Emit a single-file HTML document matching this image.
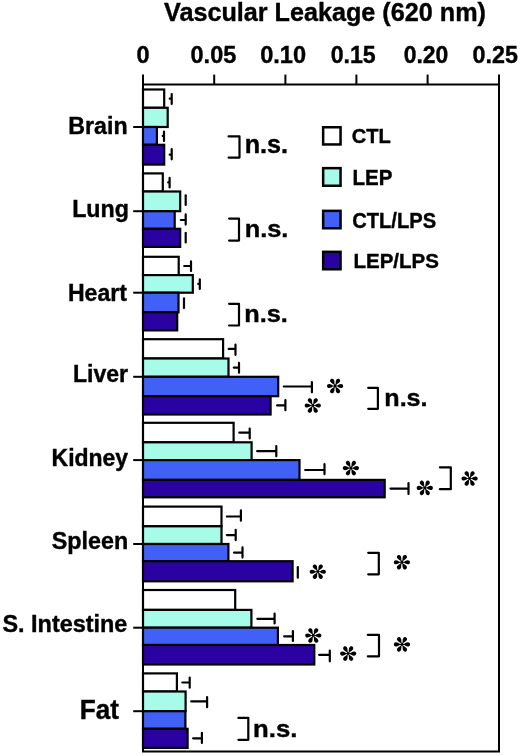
<!DOCTYPE html><html><head><meta charset="utf-8"><style>html,body{margin:0;padding:0;background:#fff;}svg{display:block;will-change:transform;filter:blur(0.3px);}text{font-family:"Liberation Sans",sans-serif;font-weight:bold;fill:#000;stroke:#000;stroke-width:0.4px;}</style></head><body>
<svg width="520" height="756" viewBox="0 0 520 756">
<text transform="matrix(0.9694 0 0 1.0222 164.0 21.0)" font-size="26">Vascular Leakage (620 nm)</text>
<text transform="matrix(0.9787 0 0 0.9739 136.57 63.23)" font-size="24">0</text>
<text transform="matrix(0.978 0 0 0.9855 190.57 63.33)" font-size="24">0.05</text>
<text transform="matrix(0.9839 0 0 0.9855 260.16 63.23)" font-size="24">0.10</text>
<text transform="matrix(0.9648 0 0 0.9739 330.68 62.83)" font-size="24">0.15</text>
<text transform="matrix(0.9551 0 0 0.9913 403.68 63.33)" font-size="24">0.20</text>
<text transform="matrix(0.9714 0 0 0.9855 472.57 63.23)" font-size="24">0.25</text>
<rect x="143.0" y="89.5" width="21.2" height="18.3" fill="#ffffff" stroke="#000" stroke-width="2.2"/>
<rect x="143.0" y="107.8" width="24.7" height="19.2" fill="#a6fbe9" stroke="#000" stroke-width="2.2"/>
<rect x="143.0" y="127.0" width="13.9" height="17.8" fill="#4161f6" stroke="#000" stroke-width="2.2"/>
<rect x="143.0" y="144.8" width="21.2" height="19.8" fill="#2b02a2" stroke="#000" stroke-width="2.2"/>
<rect x="143.0" y="173.4" width="19.8" height="18.1" fill="#ffffff" stroke="#000" stroke-width="2.2"/>
<rect x="143.0" y="191.5" width="37.2" height="19.7" fill="#a6fbe9" stroke="#000" stroke-width="2.2"/>
<rect x="143.0" y="211.2" width="31.7" height="17.6" fill="#4161f6" stroke="#000" stroke-width="2.2"/>
<rect x="143.0" y="228.8" width="37.2" height="18.1" fill="#2b02a2" stroke="#000" stroke-width="2.2"/>
<rect x="143.0" y="256.8" width="35.7" height="18.3" fill="#ffffff" stroke="#000" stroke-width="2.2"/>
<rect x="143.0" y="275.1" width="49.8" height="17.6" fill="#a6fbe9" stroke="#000" stroke-width="2.2"/>
<rect x="143.0" y="292.7" width="35.5" height="19.6" fill="#4161f6" stroke="#000" stroke-width="2.2"/>
<rect x="143.0" y="312.3" width="34.2" height="18.1" fill="#2b02a2" stroke="#000" stroke-width="2.2"/>
<rect x="143.0" y="339.2" width="80.1" height="19.3" fill="#ffffff" stroke="#000" stroke-width="2.2"/>
<rect x="143.0" y="358.5" width="85.5" height="18.3" fill="#a6fbe9" stroke="#000" stroke-width="2.2"/>
<rect x="143.0" y="376.8" width="135.2" height="19.4" fill="#4161f6" stroke="#000" stroke-width="2.2"/>
<rect x="143.0" y="396.2" width="127.6" height="18.3" fill="#2b02a2" stroke="#000" stroke-width="2.2"/>
<rect x="143.0" y="422.8" width="90.6" height="19.5" fill="#ffffff" stroke="#000" stroke-width="2.2"/>
<rect x="143.0" y="442.3" width="108.6" height="17.8" fill="#a6fbe9" stroke="#000" stroke-width="2.2"/>
<rect x="143.0" y="460.1" width="156.5" height="19.8" fill="#4161f6" stroke="#000" stroke-width="2.2"/>
<rect x="143.0" y="479.9" width="241.7" height="17.4" fill="#2b02a2" stroke="#000" stroke-width="2.2"/>
<rect x="143.0" y="506.6" width="78.5" height="19.7" fill="#ffffff" stroke="#000" stroke-width="2.2"/>
<rect x="143.0" y="526.3" width="78.5" height="17.7" fill="#a6fbe9" stroke="#000" stroke-width="2.2"/>
<rect x="143.0" y="544.0" width="85.4" height="17.2" fill="#4161f6" stroke="#000" stroke-width="2.2"/>
<rect x="143.0" y="561.2" width="149.6" height="20.1" fill="#2b02a2" stroke="#000" stroke-width="2.2"/>
<rect x="143.0" y="590.0" width="92.2" height="19.9" fill="#ffffff" stroke="#000" stroke-width="2.2"/>
<rect x="143.0" y="609.9" width="108.4" height="17.8" fill="#a6fbe9" stroke="#000" stroke-width="2.2"/>
<rect x="143.0" y="627.7" width="134.9" height="17.3" fill="#4161f6" stroke="#000" stroke-width="2.2"/>
<rect x="143.0" y="645.0" width="171.3" height="19.5" fill="#2b02a2" stroke="#000" stroke-width="2.2"/>
<rect x="143.0" y="673.4" width="33.9" height="18.1" fill="#ffffff" stroke="#000" stroke-width="2.2"/>
<rect x="143.0" y="691.5" width="42.6" height="19.7" fill="#a6fbe9" stroke="#000" stroke-width="2.2"/>
<rect x="143.0" y="711.2" width="42.4" height="17.6" fill="#4161f6" stroke="#000" stroke-width="2.2"/>
<rect x="143.0" y="728.8" width="44.6" height="19.1" fill="#2b02a2" stroke="#000" stroke-width="2.2"/>
<g stroke="#000" stroke-width="2.2" stroke-linecap="round" fill="none">
<path d="M171.7 94.0V104.0M169.7 98.7H171.7"/>
<path d="M164.0 131.5V140.9M162.7 135.9H164.0"/>
<path d="M171.7 149.0V159.3M169.7 154.7H171.7"/>
<path d="M169.6 177.9V187.5M168.2 182.4H169.6"/>
<path d="M185.7 195.3V205.0"/>
<path d="M185.7 214.4V224.6M180.9 220.0H185.7"/>
<path d="M185.7 232.9V242.5"/>
<path d="M191.0 261.4V271.0M184.2 266.0H191.0"/>
<path d="M199.8 279.4V289.0M198.3 283.9H199.8"/>
<path d="M184.0 298.4V308.1"/>
<path d="M235.5 344.7V354.8M228.7 348.9H235.5"/>
<path d="M239.0 362.8V372.7M233.8 367.6H239.0"/>
<path d="M311.9 382.0V392.3M283.8 386.5H311.9"/>
<path d="M285.4 400.1V410.2M277.1 405.4H285.4"/>
<path d="M249.7 428.5V438.4M239.3 432.6H249.7"/>
<path d="M276.3 446.2V456.2M257.2 451.2H276.3"/>
<path d="M324.5 464.2V474.2M305.2 470.0H324.5"/>
<path d="M408.5 483.1V493.9M390.5 488.6H408.5"/>
<path d="M240.9 510.3V520.7M226.9 516.5H240.9"/>
<path d="M235.7 529.8V540.1M226.9 535.1H235.7"/>
<path d="M242.5 547.3V557.6M234.0 552.6H242.5"/>
<path d="M297.8 567.0V577.7"/>
<path d="M274.6 613.6V623.4M257.3 618.8H274.6"/>
<path d="M292.9 631.1V640.9M284.2 636.4H292.9"/>
<path d="M329.8 650.6V661.3M319.1 654.8H329.8"/>
<path d="M189.7 677.5V687.7M182.3 682.5H189.7"/>
<path d="M207.1 697.0V707.2M191.2 701.4H207.1"/>
<path d="M201.9 732.8V743.0M193.1 738.3H201.9"/>
</g>
<path d="M143.0 74.6V751.4H499V74.6M143.0 84.5H499" fill="none" stroke="#000" stroke-width="2"/>
<g stroke="#000" stroke-width="2">
<line x1="214.2" y1="74.6" x2="214.2" y2="84.5"/>
<line x1="285.4" y1="74.6" x2="285.4" y2="84.5"/>
<line x1="356.4" y1="74.6" x2="356.4" y2="84.5"/>
<line x1="427.6" y1="74.6" x2="427.6" y2="84.5"/>
<line x1="133.2" y1="127.0" x2="143.0" y2="127.0"/>
<line x1="133.2" y1="211.2" x2="143.0" y2="211.2"/>
<line x1="133.2" y1="292.7" x2="143.0" y2="292.7"/>
<line x1="133.2" y1="376.8" x2="143.0" y2="376.8"/>
<line x1="133.2" y1="460.1" x2="143.0" y2="460.1"/>
<line x1="133.2" y1="544.0" x2="143.0" y2="544.0"/>
<line x1="133.2" y1="627.7" x2="143.0" y2="627.7"/>
<line x1="133.2" y1="711.2" x2="143.0" y2="711.2"/>
</g>
<text transform="matrix(0.9672 0 0 1.0105 68.27 133.9)" font-size="24">Brain</text>
<text transform="matrix(0.9682 0 0 1.0226 72.17 216.9)" font-size="24">Lung</text>
<text transform="matrix(0.962 0 0 1.0226 67.88 300.8)" font-size="24">Heart</text>
<text transform="matrix(0.9611 0 0 1.0286 72.98 382.3)" font-size="24">Liver</text>
<text transform="matrix(0.9575 0 0 1.0346 51.58 466.1)" font-size="24">Kidney</text>
<text transform="matrix(0.9717 0 0 0.9719 51.81 549.0)" font-size="24">Spleen</text>
<text transform="matrix(0.9766 0 0 1.0133 2.41 632.3)" font-size="24">S. Intestine</text>
<text transform="matrix(0.9677 0 0 1.0336 79.68 718.5)" font-size="27">Fat</text>
<g stroke="#000" stroke-width="2.2" stroke-linecap="round" stroke-linejoin="round" fill="none">
<path d="M228.6 136.4H239.5V157.6H228.6"/>
<path d="M229.1 218.6H239.0V240.6H229.1"/>
<path d="M229.1 303.8H239.0V325.5H229.1"/>
<path d="M368.2 387.8H377.9V408.8H368.2"/>
<path d="M439.9 467.3H450.8V489.2H439.9"/>
<path d="M368.2 552.8H378.8V574.3H368.2"/>
<path d="M367.8 634.8H379.0V656.3H367.8"/>
<path d="M238.4 717.9H248.3V739.8H238.4"/>
</g>
<text transform="matrix(1.0075 0 0 0.9982 244.69 153.2)" font-size="25">n.s.</text>
<text transform="matrix(1.015 0 0 0.9321 244.68 236.7)" font-size="25">n.s.</text>
<text transform="matrix(1.0125 0 0 0.9394 244.28 321.5)" font-size="25">n.s.</text>
<text transform="matrix(1.005 0 0 0.9541 384.29 406.2)" font-size="25">n.s.</text>
<text transform="matrix(1.03 0 0 0.9541 253.06 737.2)" font-size="25">n.s.</text>
<defs><g id="ast"><path d="M0.9 -0.35C3.0 -0.45 3.9 -2.05 5.95 -2.05C7.25 -2.05 8.1 -1.1 8.1 0C8.1 1.1 7.25 2.05 5.95 2.05C3.9 2.05 3.0 0.45 0.9 0.35Z" transform="rotate(0)"/><path d="M0.9 -0.35C3.0 -0.45 3.9 -2.05 5.95 -2.05C7.25 -2.05 8.1 -1.1 8.1 0C8.1 1.1 7.25 2.05 5.95 2.05C3.9 2.05 3.0 0.45 0.9 0.35Z" transform="rotate(60)"/><path d="M0.9 -0.35C3.0 -0.45 3.9 -2.05 5.95 -2.05C7.25 -2.05 8.1 -1.1 8.1 0C8.1 1.1 7.25 2.05 5.95 2.05C3.9 2.05 3.0 0.45 0.9 0.35Z" transform="rotate(120)"/><path d="M0.9 -0.35C3.0 -0.45 3.9 -2.05 5.95 -2.05C7.25 -2.05 8.1 -1.1 8.1 0C8.1 1.1 7.25 2.05 5.95 2.05C3.9 2.05 3.0 0.45 0.9 0.35Z" transform="rotate(180)"/><path d="M0.9 -0.35C3.0 -0.45 3.9 -2.05 5.95 -2.05C7.25 -2.05 8.1 -1.1 8.1 0C8.1 1.1 7.25 2.05 5.95 2.05C3.9 2.05 3.0 0.45 0.9 0.35Z" transform="rotate(240)"/><path d="M0.9 -0.35C3.0 -0.45 3.9 -2.05 5.95 -2.05C7.25 -2.05 8.1 -1.1 8.1 0C8.1 1.1 7.25 2.05 5.95 2.05C3.9 2.05 3.0 0.45 0.9 0.35Z" transform="rotate(300)"/><circle r="1.4"/></g></defs>
<use href="#ast" x="335.1" y="386.0"/>
<use href="#ast" x="312.8" y="405.5"/>
<use href="#ast" x="350.9" y="468.1"/>
<use href="#ast" x="424.8" y="487.9"/>
<use href="#ast" x="469.6" y="478.5"/>
<use href="#ast" x="317.8" y="571.7"/>
<use href="#ast" x="401.9" y="562.2"/>
<use href="#ast" x="313.3" y="635.5"/>
<use href="#ast" x="348.2" y="653.6"/>
<use href="#ast" x="402.0" y="644.4"/>
<rect x="323.15" y="127.25" width="17.4" height="17.20" fill="#ffffff" stroke="#000" stroke-width="2.5"/>
<rect x="323.15" y="168.15" width="17.4" height="17.60" fill="#a6fbe9" stroke="#000" stroke-width="2.5"/>
<rect x="323.15" y="210.85" width="17.4" height="17.40" fill="#4161f6" stroke="#000" stroke-width="2.5"/>
<rect x="323.15" y="251.85" width="17.4" height="17.40" fill="#2b02a2" stroke="#000" stroke-width="2.5"/>
<text transform="matrix(0.956 0 0 1.0017 351.7 143.1)" font-size="21">CTL</text>
<text transform="matrix(0.9764 0 0 1.0237 352.58 184.6)" font-size="21">LEP</text>
<text transform="matrix(0.9588 0 0 1.0084 352.2 227.7)" font-size="21">CTL/LPS</text>
<text transform="matrix(0.9775 0 0 0.9898 353.48 267.7)" font-size="21">LEP/LPS</text>
</svg></body></html>
